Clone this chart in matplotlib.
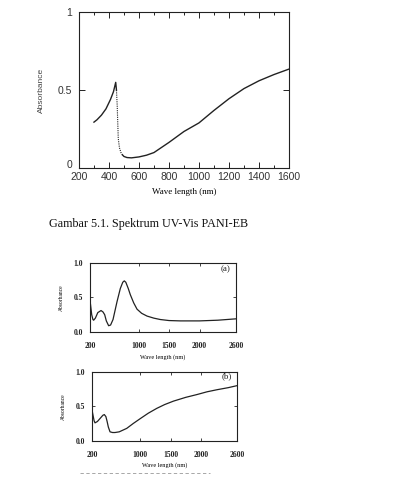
import numpy as np
import matplotlib; matplotlib.use("Agg")
import matplotlib.pyplot as plt
import matplotlib.transforms as mtransforms
from matplotlib.ticker import MultipleLocator, FixedLocator

# Fig 5.1: PANI-EB spectrum
EB_WL  = [300, 320, 350, 380, 410, 430, 445, 450, 455, 462, 470, 480, 490, 500, 520, 550, 600, 650,
          700, 740, 800, 850, 900, 1000, 1100, 1200, 1300, 1400, 1500, 1600]
EB_ABS = [0.295, 0.31, 0.34, 0.38, 0.44, 0.49, 0.55, 0.50, 0.40, 0.19, 0.13, 0.10, 0.085, 0.075, 0.068, 0.066, 0.072, 0.083,
          0.10, 0.126, 0.165, 0.20, 0.235, 0.29, 0.37, 0.445, 0.51, 0.56, 0.60, 0.635]

# panel (a)
A_WL  = [200, 210, 230, 250, 262, 290, 330, 383, 415, 443, 470, 508, 540, 580, 646, 700, 740, 765, 790,
         830, 864, 920, 974, 1050, 1138, 1250, 1356, 1500, 1684, 2000, 2300, 2600]
A_ABS = [0.47, 0.40, 0.25, 0.18, 0.17, 0.20, 0.28, 0.31, 0.29, 0.25, 0.16, 0.09, 0.10, 0.18, 0.44, 0.63, 0.72, 0.74, 0.72,
         0.63, 0.54, 0.42, 0.33, 0.27, 0.23, 0.20, 0.18, 0.165, 0.16, 0.16, 0.17, 0.19]

# panel (b)
B_WL  = [200, 215, 235, 250, 290, 340, 380, 404, 430, 450, 470, 498, 540, 580, 650, 774, 880, 995,
         1130, 1270, 1400, 1546, 1750, 1933, 2100, 2264, 2450, 2600]
B_ABS = [0.45, 0.38, 0.29, 0.26, 0.28, 0.33, 0.37, 0.38, 0.35, 0.28, 0.20, 0.13, 0.12, 0.12, 0.13, 0.18, 0.25, 0.32,
         0.40, 0.47, 0.525, 0.575, 0.63, 0.67, 0.71, 0.74, 0.77, 0.80]

SMALL_X_TICKS  = [200, 1000, 1500, 2000, 2600]
SMALL_Y_TICKS  = [0.0, 0.5, 1.0]

SANS  = "Liberation Sans"
SERIF = "Liberation Serif"
INK   = "#222222"

fig = plt.figure(figsize=(4.2, 4.86), dpi=100)
fig.patch.set_facecolor("white")

# ---- top chart
ax = fig.add_axes([0.188, 0.654, 0.50, 0.321])
ax.plot(EB_WL[:8], EB_ABS[:8], color=INK, lw=1.0)
ax.plot(EB_WL[7:13], EB_ABS[7:13], color=INK, lw=0.8, ls=(0, (1, 1)))
ax.plot(EB_WL[12:], EB_ABS[12:], color=INK, lw=1.0)
ax.set_xlim(200, 1600)
ax.set_ylim(0, 1)
ax.xaxis.set_major_locator(MultipleLocator(200))
ax.xaxis.set_minor_locator(MultipleLocator(100))
ax.yaxis.set_major_locator(FixedLocator([0, 0.5, 1]))
ax.set_yticklabels(["0", "0.5", "1"])
ax.tick_params(which="both", direction="in", top=True, right=True, colors=INK, width=0.7)
ax.tick_params(which="major", length=4, labelsize=7.5)
ax.tick_params(axis="x", which="major", pad=3)
ax.tick_params(axis="y", which="major", pad=5)
ax.tick_params(which="minor", length=2)
for lab in ax.get_xticklabels() + ax.get_yticklabels():
    lab.set_family(SANS)
    lab.set_color("#333333")
# nudge the corner "0" up a little so it clears the "200"
zero = ax.get_yticklabels()[0]
zero.set_transform(zero.get_transform() + mtransforms.ScaledTranslation(0, 3 / 72, fig.dpi_scale_trans))
for sp in ax.spines.values():
    sp.set_linewidth(0.8)
    sp.set_color(INK)
ax.spines["left"].set_linestyle((0, (2, 1)))
ax.set_xlabel("Wave length (nm)", family=SERIF, fontsize=6.5, labelpad=4)
ax.set_ylabel("Absorbance", family=SANS, fontsize=6, labelpad=9, color="#444444")

fig.text(0.117, 0.539, "Gambar 5.1. Spektrum UV-Vis PANI-EB", family=SERIF, fontsize=8.7,
         color="#111111", va="center")

# ---- panels (a) and (b)
def small_panel(rect, wl, absb, tag, tag_y):
    a = fig.add_axes(rect)
    a.plot(wl, absb, color=INK, lw=0.9)
    a.set_xlim(200, 2600)
    a.set_ylim(0, 1)
    a.set_xticks(SMALL_X_TICKS)
    a.set_xticklabels([str(v) for v in SMALL_X_TICKS])
    a.set_yticks(SMALL_Y_TICKS)
    a.set_yticklabels(["0.0", "0.5", "1.0"])
    a.tick_params(direction="in", top=True, right=True, length=2.5, width=0.6,
                  labelsize=5.5, colors=INK)
    a.tick_params(axis="x", pad=7)
    a.tick_params(axis="y", pad=5)
    for lab in a.get_xticklabels() + a.get_yticklabels():
        lab.set_family(SERIF)
        lab.set_fontweight("bold")
    for sp in a.spines.values():
        sp.set_linewidth(0.8)
        sp.set_color(INK)
    a.set_xlabel("Wave length (nm)", family=SERIF, fontsize=4.5, labelpad=3)
    a.set_ylabel("Absorbance", family=SERIF, fontsize=4, labelpad=7)
    a.text(0.93, tag_y, tag, transform=a.transAxes, family=SERIF, fontsize=6.5,
           ha="center", va="center", color=INK)
    return a

small_panel([0.214, 0.317, 0.348, 0.142], A_WL, A_ABS, "(a)", 0.91)
small_panel([0.219, 0.093, 0.346, 0.142], B_WL, B_ABS, "(b)", 0.93)

# faint scan remnant under the bottom chart
fig.add_artist(plt.Line2D([0.19, 0.50], [0.027, 0.027], color="#999999", lw=0.6,
                          ls=(0, (4, 3))))

fig.savefig("out.png", dpi=100, facecolor="white")
